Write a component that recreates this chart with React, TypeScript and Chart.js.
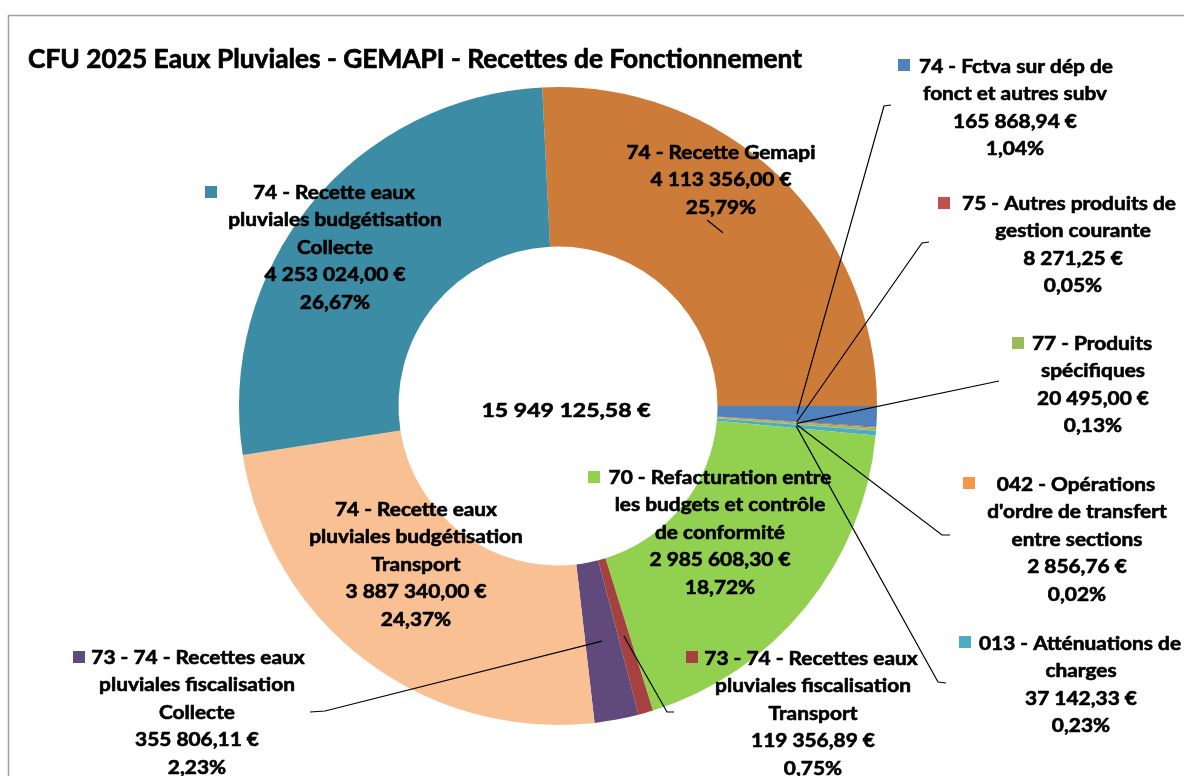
import { useEffect, useRef } from "react";
import { Chart, registerables } from "chart.js";
Chart.register(...registerables);

const TITLE = "CFU 2025 Eaux Pluviales - GEMAPI - Recettes de Fonctionnement";

// Slices in clockwise order starting from the top
const categories = [
  "74 - Recette Gemapi",
  "74 - Fctva sur dép de fonct et autres subv",
  "75 - Autres produits de gestion courante",
  "77 - Produits spécifiques",
  "042 - Opérations d'ordre de transfert entre sections",
  "013 - Atténuations de charges",
  "70 - Refacturation entre les budgets et contrôle de conformité",
  "73 - 74 - Recettes eaux pluviales fiscalisation Transport",
  "73 - 74 - Recettes eaux pluviales fiscalisation Collecte",
  "74 - Recette eaux pluviales budgétisation Transport",
  "74 - Recette eaux pluviales budgétisation Collecte",
];

const values = [
  4113356.0, 165868.94, 8271.25, 20495.0, 2856.76, 37142.33, 2985608.3,
  119356.89, 355806.11, 3887340.0, 4253024.0,
];

const colors = [
  "#CC7B38", "#4F81BD", "#C0504D", "#9BBB59", "#F79646", "#4BACC6",
  "#92D050", "#A5423F", "#604A7B", "#F9C193", "#3B8CA4",
];

// category names broken into lines as displayed
const nameLines = [
  ["74 - Recette Gemapi"],
  ["74 - Fctva sur dép de", "fonct et autres subv"],
  ["75 - Autres produits de", "gestion courante"],
  ["77 - Produits", "spécifiques"],
  ["042 - Opérations", "d'ordre de transfert", "entre sections"],
  ["013 - Atténuations de", "charges"],
  ["70 - Refacturation entre", "les budgets et contrôle", "de conformité"],
  ["73 - 74 - Recettes eaux", "pluviales fiscalisation", "Transport"],
  ["73 - 74 - Recettes eaux", "pluviales fiscalisation", "Collecte"],
  ["74 - Recette eaux", "pluviales budgétisation", "Transport"],
  ["74 - Recette eaux", "pluviales budgétisation", "Collecte"],
];

// label layout: center x, first-line center x, first-line center y, key square (or null), leader waypoints
type Layout = { cx: number; cx1: number; y0: number; key: number[] | null; leader: number[][] };
const layouts: Layout[] = [
  { cx: 721, cx1: 721, y0: 152, key: null, leader: [[707, 220]] },
  { cx: 1015, cx1: 1016, y0: 66, key: [898, 59], leader: [[884, 106], [891, 105]] },
  { cx: 1073, cx1: 1069, y0: 203, key: [938, 197], leader: [[922, 243], [929, 242]] },
  { cx: 1093, cx1: 1092, y0: 343, key: [1012, 337], leader: [[999, 381]] },
  { cx: 1077, cx1: 1076, y0: 484, key: [963, 477], leader: [[942, 535], [950, 535]] },
  { cx: 1081, cx1: 1080, y0: 643, key: [959, 636], leader: [[938, 682], [946, 683]] },
  { cx: 720, cx1: 720, y0: 477, key: [588, 471], leader: [] },
  { cx: 813, cx1: 811, y0: 658, key: [686, 651], leader: [[667, 712], [674, 712]] },
  { cx: 197, cx1: 198, y0: 657, key: [73, 651], leader: [[325, 711], [310, 712]] },
  { cx: 416, cx1: 416, y0: 509, key: null, leader: [] },
  { cx: 335, cx1: 334, y0: 192, key: [205, 186], leader: [] },
];

const LINE_H = 27.5;
const FONT_FAMILY = "Lato, 'Open Sans', sans-serif";

const total = values.reduce((a, b) => a + b, 0);

function fmtMoney(v: number): string {
  const [i, d] = v.toFixed(2).split(".");
  const grouped = i.replace(/\B(?=(\d{3})+(?!\d))/g, " ");
  return grouped + "," + d + " €";
}
function fmtPct(v: number): string {
  return ((v / total) * 100).toFixed(2).replace(".", ",") + "%";
}

function drawScaled(
  ctx: CanvasRenderingContext2D,
  text: string,
  x: number,
  y: number,
  sx: number,
  align: CanvasTextAlign,
  thick: number
) {
  ctx.save();
  ctx.translate(x, y);
  ctx.scale(sx, 1);
  ctx.textAlign = align;
  ctx.fillText(text, 0, 0);
  if (thick > 0) {
    ctx.lineWidth = thick;
    ctx.strokeStyle = "#000";
    ctx.lineJoin = "round";
    ctx.strokeText(text, 0, 0);
  }
  ctx.restore();
}

const overlay = {
  id: "overlay",
  afterDraw(chart: any) {
    const ctx: CanvasRenderingContext2D = chart.ctx;
    const arcs = chart.getDatasetMeta(0).data;
    ctx.save();

    // frame
    ctx.strokeStyle = "#a0a0a0";
    ctx.lineWidth = 1.5;
    ctx.strokeRect(8.5, 15.5, 2000, 2000);

    ctx.fillStyle = "#000";
    ctx.textBaseline = "alphabetic";

    // title
    ctx.font = "bold 26px " + FONT_FAMILY;
    const tw = ctx.measureText(TITLE).width;
    drawScaled(ctx, TITLE, 28, 68, 774 / tw, "left", 0.7);

    // center total
    ctx.font = "bold 19px " + FONT_FAMILY;
    const totalTxt = fmtMoney(total);
    const cw = ctx.measureText(totalTxt).width;
    drawScaled(ctx, totalTxt, 566, 417, 169 / cw, "center", 0.6);

    // leaders
    ctx.strokeStyle = "#000";
    ctx.lineWidth = 1.2;
    layouts.forEach((lay, i) => {
      if (!lay.leader.length) return;
      const p = arcs[i].getCenterPoint();
      ctx.beginPath();
      ctx.moveTo(p.x, p.y);
      lay.leader.forEach((pt) => ctx.lineTo(pt[0], pt[1]));
      ctx.stroke();
    });

    // labels
    ctx.font = "bold 18px " + FONT_FAMILY;
    const sx = 162 / ctx.measureText("74 - Recette eaux").width;
    layouts.forEach((lay, i) => {
      const lines = [...nameLines[i], fmtMoney(values[i]), fmtPct(values[i])];
      lines.forEach((ln, k) => {
        const x = k === 0 ? lay.cx1 : lay.cx;
        drawScaled(ctx, ln, x, lay.y0 + k * LINE_H + 6.5, sx, "center", 0.6);
      });
      if (lay.key) {
        ctx.fillStyle = colors[i];
        ctx.fillRect(lay.key[0], lay.key[1], 12, 12);
        ctx.fillStyle = "#000";
      }
    });

    ctx.restore();
  },
};

export default function App() {
  const ref = useRef<HTMLCanvasElement>(null);
  useEffect(() => {
    if (!ref.current) return;
    const chart = new Chart(ref.current, {
      type: "doughnut",
      data: {
        labels: categories,
        datasets: [
          {
            data: values,
            backgroundColor: colors,
            borderWidth: 0,
            hoverOffset: 0,
          },
        ],
      },
      options: {
        responsive: false,
        animation: false,
        rotation: 90 - (values[0] / total) * 360,
        cutout: "50%",
        layout: { padding: { left: 239, right: 307, top: 87, bottom: 51 } },
        plugins: {
          legend: { display: false },
          tooltip: { enabled: false },
          title: { display: false },
        },
        events: [],
      },
      plugins: [overlay],
    });
    return () => chart.destroy();
  }, []);
  return (
    <canvas
      ref={ref}
      width={1184}
      height={776}
      style={{ position: "absolute", left: 0, top: 0, width: 1184, height: 776, background: "#fff" }}
    />
  );
}
